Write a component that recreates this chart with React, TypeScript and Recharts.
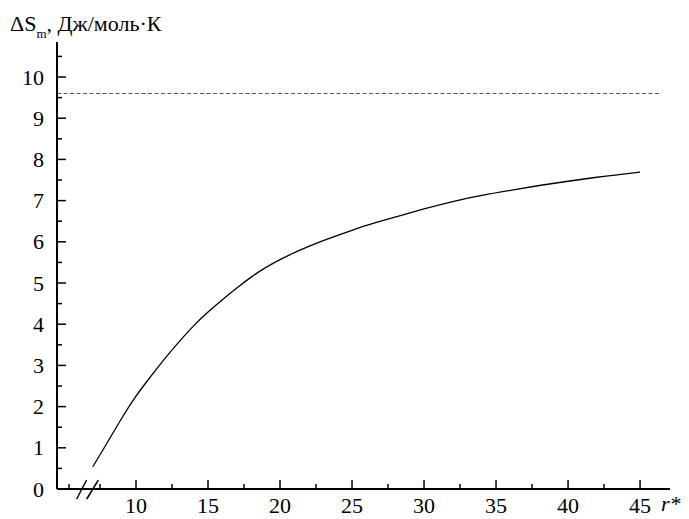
import React from 'react';
import { LineChart, Line, XAxis, YAxis, ReferenceLine } from 'recharts';

const rValues = [7, 8, 9, 10, 11, 12, 13, 14, 15, 16, 17, 18, 19, 20, 21, 22, 23, 24, 25, 26, 27, 28, 30, 32, 34, 36, 38, 40, 42, 44, 45];
const entropyValues = [0.54, 1.12, 1.72, 2.27, 2.72, 3.17, 3.58, 3.97, 4.3, 4.6, 4.88, 5.15, 5.38, 5.57, 5.74, 5.89, 6.03, 6.16, 6.28, 6.4, 6.5, 6.6, 6.8, 6.98, 7.13, 7.25, 7.37, 7.47, 7.57, 7.65, 7.69];
const limitValue = 9.6;

const xMajorTicks = [10, 15, 20, 25, 30, 35, 40, 45];
const xMinorTicks = [5.35, 7.5, 12.5, 17.5, 22.5, 27.5, 32.5, 37.5, 42.5];
const yMajorTicks = [0, 1, 2, 3, 4, 5, 6, 7, 8, 9, 10];
const yMinorTicks = [0.5, 1.5, 2.5, 3.5, 4.5, 5.5, 6.5, 7.5, 8.5, 9.5, 10.5];

const xDomain: [number, number] = [4.514, 47.08];
const yDomain: [number, number] = [0, 10.85];

const data = rValues.map((r, i) => ({ r, s: entropyValues[i] }));

const SERIF = 'Liberation Serif';

const XTick = (props: any) => {
  const { x, y, payload } = props;
  const major = xMajorTicks.includes(payload.value);
  return (
    <g>
      <line x1={x} x2={x} y1={y} y2={y - (major ? 9 : 5)} stroke="#000" strokeWidth={1.5} />
      {major && (
        <text x={x} y={y + 24} textAnchor="middle" fontFamily={SERIF} fontSize={22} fill="#000">
          {payload.value}
        </text>
      )}
    </g>
  );
};

const YTick = (props: any) => {
  const { x, y, payload } = props;
  const major = yMajorTicks.includes(payload.value);
  return (
    <g>
      <line x1={x} x2={x + (major ? 9 : 5)} y1={y} y2={y} stroke="#000" strokeWidth={1.5} />
      {major && (
        <text x={x - 13} y={y + 7.5} textAnchor="end" fontFamily={SERIF} fontSize={22} fill="#000">
          {payload.value}
        </text>
      )}
    </g>
  );
};

export default function App() {
  return (
    <div style={{ position: 'absolute', left: 0, top: 0, width: 689, height: 519, background: '#fff' }}>
      <LineChart width={689} height={519} data={data} margin={{ top: 42, right: 19, bottom: 0, left: 0 }}>
        <XAxis
          dataKey="r"
          type="number"
          domain={xDomain}
          ticks={[...xMinorTicks, ...xMajorTicks].sort((a, b) => a - b)}
          interval={0}
          tickSize={0}
          tickMargin={0}
          tickLine={false}
          tick={<XTick />}
          height={30}
          axisLine={{ stroke: '#000', strokeWidth: 2 }}
          allowDataOverflow
        />
        <YAxis
          type="number"
          domain={yDomain}
          ticks={[...yMajorTicks, ...yMinorTicks].sort((a, b) => a - b)}
          interval={0}
          tickSize={0}
          tickMargin={0}
          tickLine={false}
          tick={<YTick />}
          width={57}
          axisLine={{ stroke: '#000', strokeWidth: 2 }}
          allowDataOverflow
        />
        <ReferenceLine
          segment={[{ x: xDomain[0], y: limitValue }, { x: 46.39, y: limitValue }]}
          stroke="#555"
          strokeWidth={1}
          strokeDasharray="4 2.5"
          ifOverflow="visible"
        />
        <ReferenceLine
          segment={[{ x: 6.11, y: 0 }, { x: 6.94, y: 0 }]}
          stroke="#fff"
          strokeWidth={4}
          ifOverflow="visible"
        />
        <ReferenceLine
          segment={[{ x: 5.88, y: -0.243 }, { x: 6.57, y: 0.218 }]}
          stroke="#000"
          strokeWidth={1.5}
          ifOverflow="visible"
        />
        <ReferenceLine
          segment={[{ x: 6.58, y: -0.243 }, { x: 7.38, y: 0.218 }]}
          stroke="#000"
          strokeWidth={1.5}
          ifOverflow="visible"
        />
        <Line
          dataKey="s"
          type="basis"
          stroke="#000"
          strokeWidth={1.3}
          dot={false}
          isAnimationActive={false}
        />
      </LineChart>
      <div
        style={{
          position: 'absolute',
          left: 10,
          top: 9,
          fontFamily: "'Liberation Serif', serif",
          fontSize: 22,
          lineHeight: '30px',
          whiteSpace: 'nowrap',
          color: '#000',
        }}
      >
        ΔS<sub style={{ fontSize: 13, verticalAlign: -7, lineHeight: 0 }}>m</sub>, Дж/моль·К
      </div>
      <div
        style={{
          position: 'absolute',
          left: 661,
          top: 489,
          fontFamily: "'Liberation Serif', serif",
          fontSize: 22,
          fontStyle: 'italic',
          lineHeight: '30px',
          whiteSpace: 'nowrap',
          color: '#000',
        }}
      >
        r*
      </div>
    </div>
  );
}
